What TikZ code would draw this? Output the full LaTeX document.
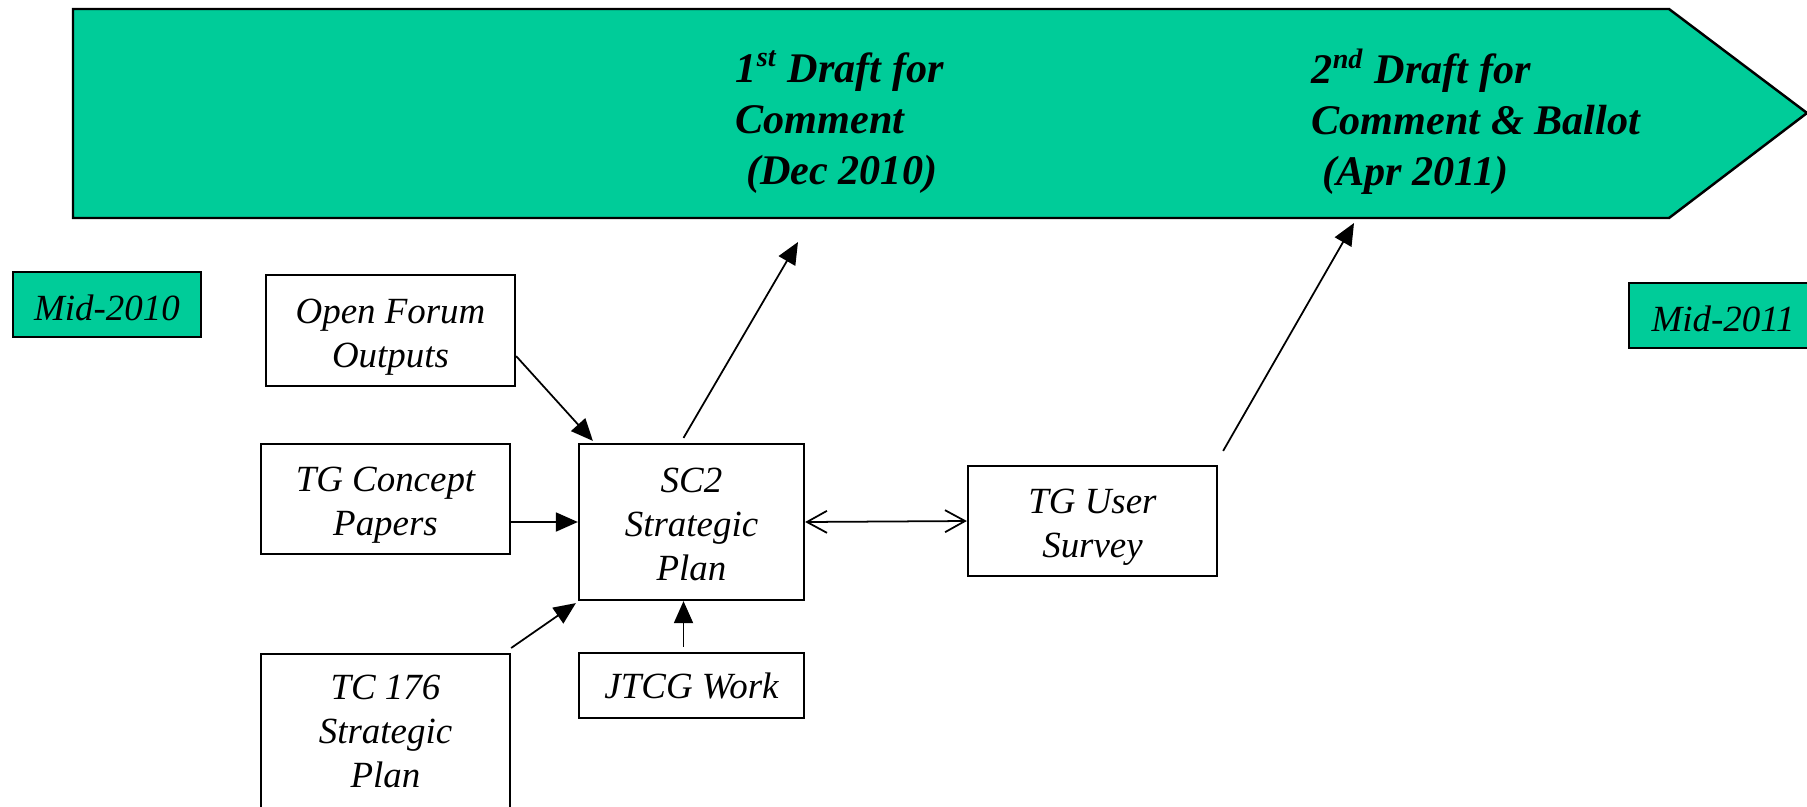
\documentclass[tikz,border=0pt]{standalone}
\usepackage{fontspec}
\setmainfont{Liberation Serif}
\usetikzlibrary{arrows.meta,calc}
\definecolor{plangreen}{RGB}{0,204,153}
\tikzset{>={Triangle[length=0.22cm,width=0.19cm]},
  box/.style={draw, line width=0.6pt, align=center, inner sep=0pt, font=\fontsize{10.5}{12.5}\selectfont\itshape},
  twoline/.style={text height=23.3pt, text depth=2.5pt},
  threeline/.style={text height=35.8pt, text depth=2.5pt},
  datebox/.style={box, fill=plangreen, minimum width=1.88cm, minimum height=0.65cm, execute at begin node={\rule{0pt}{9pt}}},
  drafttext/.style={anchor=west, align=left, inner sep=0pt, font=\fontsize{12}{14.5}\selectfont\bfseries\itshape},
  link/.style={->, line width=0.5pt}}

\begin{document}
\begin{tikzpicture}[x=0.01cm, y=-0.01cm]
\clip (0,0) rectangle (1807,806);
% timeline
\draw[fill=plangreen, line width=0.7pt] (73,9) -- (1669,9) -- (1807,113) -- (1669,218) -- (73,218) -- cycle;
\node[drafttext] (draft1txt) at (735,122) {1\textsuperscript{st} Draft for\\Comment\\\ (Dec 2010)};
\node[drafttext] (draft2txt) at (1311,122) {2\textsuperscript{nd} Draft for\\Comment \& Ballot\\\ (Apr 2011)};
\coordinate (draft1) at (798,242);
\coordinate (draft2) at (1354,223);
% dates
\node[datebox] (mid10) at (107,304.5) {Mid-2010};
\node[datebox] (mid11) at (1723,315.5) {Mid-2011};
% inputs
\node[box, twoline, minimum width=2.49cm, minimum height=1.11cm] (forum) at (390.5,330.5) {Open Forum\\Outputs};
\node[box, twoline, minimum width=2.49cm, minimum height=1.1cm] (concept) at (385.5,499) {TG Concept\\Papers};
\node[box, threeline, text height=32.9pt, minimum width=2.49cm, minimum height=1.6cm, anchor=north] (tc176) at (385.5,653) {TC 176\\Strategic\\Plan};
\node[box, threeline, minimum width=2.25cm, minimum height=1.56cm] (sc2) at (691.5,522) {SC2\\Strategic\\Plan};
\node[box, minimum width=2.25cm, minimum height=0.65cm] (jtcg) at (691.5,685.5) {JTCG Work};
\node[box, twoline, minimum width=2.49cm, minimum height=1.1cm] (survey) at (1092.5,521) {TG User\\Survey};
% links
\draw[link] ($(forum.south east)+(0,-31)$) -- ($(sc2.north west)+(15,-2)$);
\draw[link] (concept.east |- sc2.west) -- (sc2.west);
\draw[link] ($(tc176.north east)+(0,-5)$) -- ($(sc2.south west)+(-2,2)$);
\draw[link] ($(jtcg.north)+(-8,-5)$) -- ($(sc2.south)+(-8,0)$);
\draw[link] ($(sc2.north)+(-8,-5)$) -- (draft1);
\draw[link] ($(survey.north east)+(5,-14)$) -- (draft2);
\draw[line width=0.5pt, {Straight Barb[length=0.2cm,width=0.22cm]}-{Straight Barb[length=0.2cm,width=0.22cm]}] (sc2.east) -- (survey.west);
\end{tikzpicture}
\end{document}
